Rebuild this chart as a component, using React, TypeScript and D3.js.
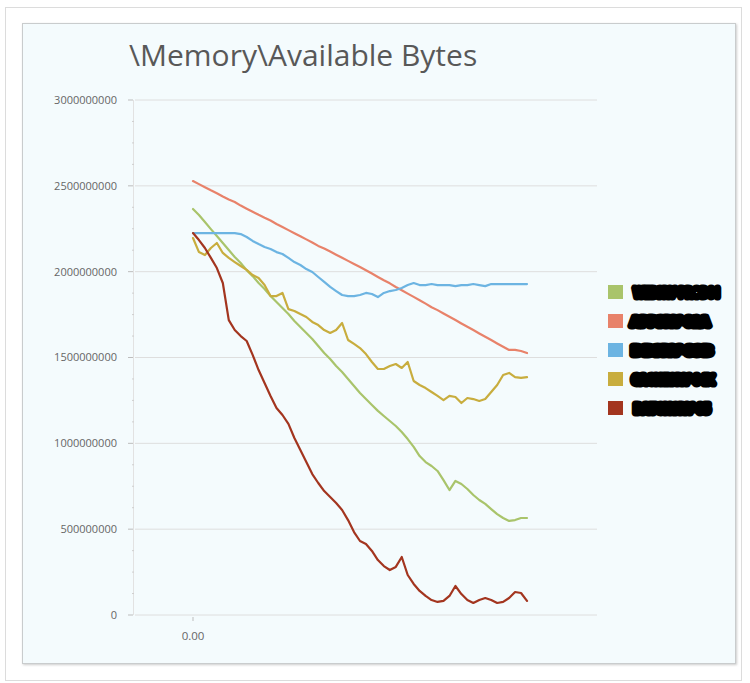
import React from "react";
import * as d3 from "d3";

// values in millions of bytes, one sample per step
const seriesNames = ["WEBSRV-PROD01", "APPSRV-02A", "DBSRV-03B", "CACHESRV-04X", "BATCHSRV-05"];
const seriesColors = ["#a9c46b", "#e8826a", "#6cb4e2", "#c8ad3e", "#a3351f"];

const greenValues = [2365,2330,2289,2248,2208,2167,2126,2085,2050,2009,1974,1934,1899,1858,1823,1788,1753,1713,1678,1643,1608,1567,1526,1491,1450,1415,1375,1334,1293,1258,1223,1189,1159,1130,1101,1066,1025,979,926,891,868,839,786,728,781,763,734,699,670,647,617,588,565,548,553,565,565];
const salmonValues = [2528,2510,2492,2474,2457,2438,2421,2406,2385,2367,2349,2331,2314,2298,2278,2260,2242,2224,2206,2188,2170,2150,2135,2117,2099,2081,2063,2045,2027,2008,1989,1969,1950,1932,1911,1892,1872,1853,1834,1814,1793,1776,1756,1737,1718,1698,1679,1660,1640,1621,1602,1582,1563,1544,1544,1538,1526];
const blueValues = [2225,2225,2225,2225,2225,2225,2225,2225,2219,2202,2179,2161,2144,2132,2114,2103,2080,2056,2039,2015,1998,1969,1940,1911,1887,1864,1858,1858,1864,1876,1870,1852,1876,1887,1893,1905,1922,1934,1922,1922,1928,1922,1922,1922,1916,1922,1922,1928,1922,1916,1928,1928,1928,1928,1928,1928,1928];
const yellowValues = [2196,2114,2097,2138,2167,2109,2080,2056,2033,2010,1980,1963,1922,1858,1858,1876,1782,1771,1753,1736,1707,1689,1660,1643,1660,1701,1602,1579,1555,1520,1474,1433,1433,1450,1462,1439,1474,1363,1340,1322,1299,1276,1252,1276,1270,1235,1264,1258,1247,1258,1299,1340,1398,1410,1386,1381,1386];
const redValues = [2225,2184,2138,2080,2021,1934,1718,1660,1625,1596,1515,1427,1351,1276,1206,1165,1113,1031,961,891,821,769,722,687,652,612,553,483,431,414,373,320,285,262,280,338,233,181,140,111,87,76,82,111,169,122,87,70,87,99,87,70,76,99,134,128,82];

const allSeries = [greenValues, salmonValues, blueValues, yellowValues, redValues];

const yTicks = [0, 500000000, 1000000000, 1500000000, 2000000000, 2500000000, 3000000000];
const xTicks = [0];

const W = 750, H = 683;

export default function App() {
  const n = greenValues.length;
  const left = 133, right = 597, top = 100, bottom = 615;
  const xData = d3.scaleLinear().domain([0, n - 1]).range([193, 527]);
  const y = d3.scaleLinear().domain([0, 3000000000]).range([bottom, top]);
  const line = d3.line<number>()
    .x((_, i) => xData(i))
    .y((d) => y(d * 1e6));

  const minor: number[] = [];
  for (let k = 0; k < yTicks.length - 1; k++) {
    const a = yTicks[k], b = yTicks[k + 1];
    for (let j = 1; j < 4; j++) minor.push(a + ((b - a) * j) / 4);
  }

  const legendY = (i: number) => 292 + i * 29;
  const legendW = [86, 78, 80, 82, 76];
  const legendX = [634, 631, 632, 632, 634];
  const font = "'Open Sans', 'Segoe UI', sans-serif";

  return (
    <div style={{ position: "absolute", left: 0, top: 0 }}>
      <svg width={W} height={H} style={{ display: "block" }}>
        <defs>
          <filter id="sh" x="-5%" y="-5%" width="110%" height="110%">
            <feDropShadow dx="1" dy="1" stdDeviation="1.2" floodColor="#999" floodOpacity="0.5" />
          </filter>
        </defs>
        <rect x={0} y={0} width={W} height={H} fill="#ffffff" />
        <rect x={5.5} y={7.5} width={736} height={673} fill="#ffffff" stroke="#dcdcdc" />
        <rect x={22.5} y={23.5} width={713} height={640} fill="#f4fbfd" stroke="#c9cccd" filter="url(#sh)" />

        <text x={129} y={66} fontFamily={font} fontSize={30} fill="#585858">
          \Memory\Available Bytes
        </text>

        {yTicks.map((t) => (
          <line key={"g" + t} x1={left + 2} x2={right} y1={y(t)} y2={y(t)} stroke="#dedede" strokeWidth={1} />
        ))}
        <line x1={left + 0.5} x2={left + 0.5} y1={top} y2={bottom} stroke="#e2e2e2" />
        {minor.map((t, i) => (
          <line key={"m" + i} x1={left - 1} x2={left + 1} y1={y(t)} y2={y(t)} stroke="#cfcfcf" />
        ))}
        {yTicks.map((t) => (
          <g key={"t" + t}>
            <line x1={left - 5} x2={left} y1={y(t)} y2={y(t)} stroke="#bdbdbd" />
            <text x={117} y={y(t)} dy="0.35em" textAnchor="end" fontFamily={font} fontSize={11} fill="#666">
              {String(t)}
            </text>
          </g>
        ))}
        {xTicks.map((t) => (
          <g key={"x" + t}>
            <line x1={xData(t)} x2={xData(t)} y1={bottom + 2} y2={bottom + 6} stroke="#bdbdbd" />
            <text x={xData(t)} y={640} textAnchor="middle" fontFamily={font} fontSize={11.5} fill="#666">
              {d3.format(".2f")(t)}
            </text>
          </g>
        ))}

        {allSeries.map((s, i) => (
          <path key={"s" + i} d={line(s) || ""} fill="none" stroke={seriesColors[i]} strokeWidth={2.2} strokeLinejoin="round" strokeLinecap="round" />
        ))}

        {seriesNames.map((nm, i) => (
          <g key={"l" + i}>
            <rect x={608} y={legendY(i) - 7} width={15} height={14} fill={seriesColors[i]} />
            <text x={legendX[i]} y={legendY(i) + 1} dy="0.35em" fontFamily={font} fontSize={12} fontWeight="bold"
              textLength={legendW[i]} lengthAdjust="spacingAndGlyphs"
              fill="#000" stroke="#000" strokeWidth={7} strokeLinejoin="round">
              {nm}
            </text>
          </g>
        ))}
      </svg>
    </div>
  );
}
